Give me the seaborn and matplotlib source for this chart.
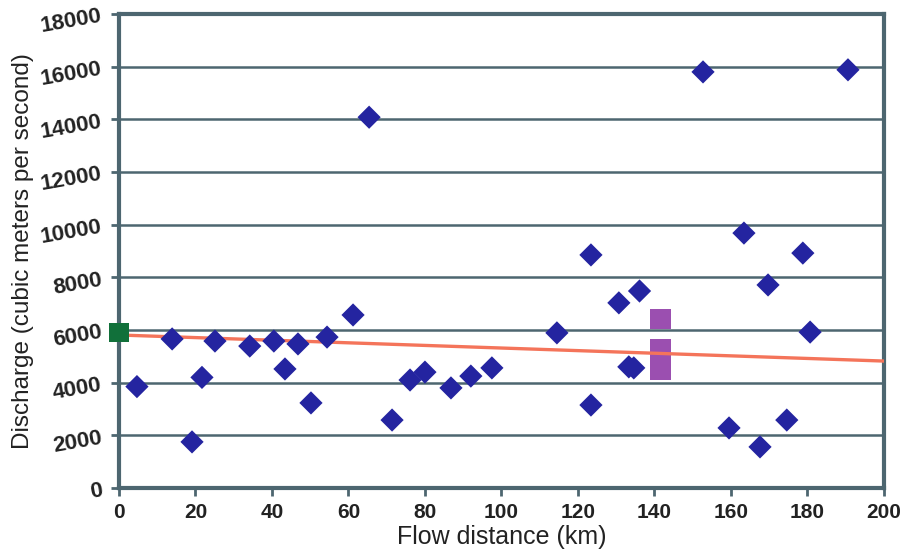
import matplotlib
matplotlib.use("Agg")
import matplotlib.pyplot as plt
import seaborn as sns
import pandas as pd

# --- Data ---
distance_km = [4.7, 13.9, 19.1, 21.7, 25.1, 34.2, 40.5, 43.4, 46.8, 50.2,
               54.4, 61.2, 65.4, 71.4, 76.1, 80.0, 86.8, 92.0, 97.5, 114.5,
               123.4, 123.4, 130.7, 133.3, 134.6, 136.1, 152.7, 159.5, 163.4,
               167.6, 169.7, 174.6, 178.8, 180.7, 190.6]
discharge = [3850, 5660, 1750, 4200, 5580, 5390, 5580, 4520, 5470, 3230,
             5730, 6570, 14080, 2580, 4100, 4400, 3800, 4250, 4560, 5890,
             8850, 3150, 7030, 4600, 4560, 7480, 15800, 2280, 9680,
             1560, 7710, 2580, 8920, 5920, 15880]

trend_x = [0, 200]
trend_y = [5810, 4820]

green_x = [0]
green_y = [5900]

bar_x = [141.5, 141.5]
bar_bottom = [6040, 4100]
bar_top = [6800, 5660]

df = pd.DataFrame({"distance": distance_km, "discharge": discharge})

sns.set_style("white")
plt.rcParams['font.family'] = ['Liberation Sans', 'DejaVu Sans']

fig = plt.figure(figsize=(9.04, 5.57), dpi=100)
ax = fig.add_axes([0.1316, 0.1239, 0.8462, 0.851])

frame = "#4d6670"
for y in range(2000, 18001, 2000):
    ax.axhline(y, color=frame, lw=1.8, zorder=1)

# purple bars
heights = [t - b for t, b in zip(bar_top, bar_bottom)]
ax.bar(bar_x, heights, bottom=bar_bottom, width=5.4, color="#9b4fb0",
       linewidth=0, zorder=2)

# trend line
sns.lineplot(x=trend_x, y=trend_y, ax=ax, color="#f4745a", lw=2.4, zorder=3)

# data points
sns.scatterplot(data=df, x="distance", y="discharge", ax=ax, marker="D",
                s=140, color="#2424a0", edgecolor="none", zorder=4)
sns.scatterplot(x=green_x, y=green_y, ax=ax, marker="s", s=190,
                color="#11703a", edgecolor="none", zorder=5, clip_on=False)

ax.set_xlim(0, 200)
ax.set_ylim(0, 18000)
ax.set_xticks(range(0, 201, 20))
ax.set_yticks(range(0, 18001, 2000))

for sp in ax.spines.values():
    sp.set_color(frame)
    sp.set_linewidth(3)

ax.tick_params(axis="both", bottom=True, left=True, direction="out",
               length=6, width=2, color=frame, labelcolor="#222222", pad=5)
ax.tick_params(axis="x", labelsize=15)
ax.tick_params(axis="y", labelsize=16)
for lab in ax.get_yticklabels():
    lab.set_rotation(10)
    lab.set_fontweight("bold")
for lab in ax.get_xticklabels():
    lab.set_fontweight("bold")

ax.set_xlabel("Flow distance (km)", fontsize=18, labelpad=2, color="#222222")
ax.set_ylabel("Discharge (cubic meters per second)", fontsize=17.5,
              labelpad=4, color="#222222")

fig.savefig("out.png", dpi=100)
